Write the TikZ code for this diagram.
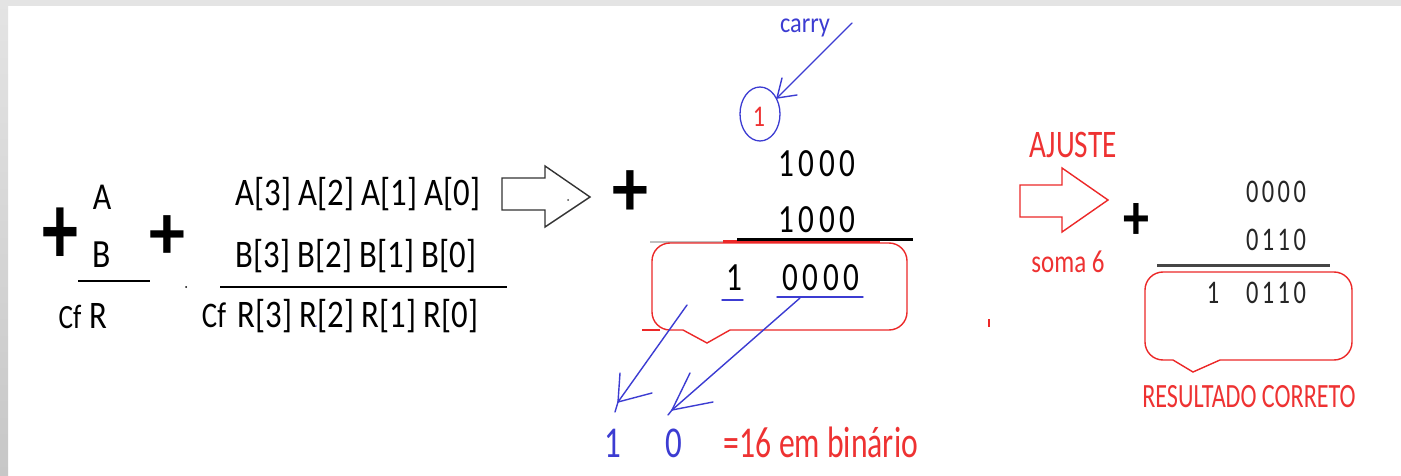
\documentclass[tikz,border=0pt]{standalone}
\usepackage{fontspec}
\usetikzlibrary{shapes.geometric}
\setmainfont{Carlito}
\newfontfamily\spaced[LetterSpace=14]{Carlito}
\definecolor{blueink}{RGB}{60,60,210}
\definecolor{redink}{RGB}{238,50,50}
\definecolor{boxred}{RGB}{236,40,40}
\definecolor{framegray}{RGB}{228,228,228}
\definecolor{sumgray}{RGB}{70,70,70}
\tikzset{
  txt/.style={inner sep=0pt, anchor=base},
  bit/.style={txt, font=\fontsize{39}{39}\selectfont, xscale=0.84},
  plus/.style={inner sep=0pt, font=\fontsize{72}{72}\bfseries},
  sumline/.style={line width=2.5pt, black},
  bluepen/.style={blueink, line width=1.4pt, line cap=round},
  redpen/.style={boxred, line width=1.4pt, rounded corners=18pt},
  hollow/.style={line width=1.4pt, fill=white},
  redtxt/.style={txt, text=redink},
  num/.style={txt, font=\spaced\fontsize{40}{40}\selectfont, xscale=0.78},
  smallnum/.style={txt, font=\spaced\fontsize{33}{33}\selectfont, xscale=0.74, text=black!85},
}
\begin{document}
\begin{tikzpicture}[x=1pt,y=-1pt]
\useasboundingbox (0,0) rectangle (1401,476);
% page frame
\fill[white] (0,0) rectangle (1401,476);
\fill[framegray] (0,0) rectangle (1401,6);
\shade[top color=framegray, bottom color=black!22] (0,0) rectangle (8,476);

% ---- single-bit sum ----
\node[plus, yscale=1.42] (p1) at (60,236) {+};
\node[bit, font=\fontsize{38}{38}\selectfont, xscale=1] (a) at (102,210) {A};
\node[bit, font=\fontsize{40}{40}\selectfont, xscale=1] (b) at (102,267) {B};
\draw[sumline] (78,281) -- (150,281);
\node[txt, font=\fontsize{34}{34}\selectfont, xscale=0.8] (cf1) at (70,328) {Cf};
\node[bit] (r) at (98,328) {R};

% ---- four-bit sum ----
\node[plus, yscale=1.1] (p2) at (167,238) {+};
\fill (186,287) circle (1pt);
\node[bit] (arow) at (358,205) {A[3] A[2] A[1] A[0]};
\node[bit] (brow) at (356,267) {B[3] B[2] B[1] B[0]};
\draw[sumline] (220,287) -- (507,287);
\node[txt, font=\fontsize{36}{36}\selectfont, xscale=0.8] (cf2) at (214,327) {Cf};
\node[bit] (rrow) at (358,327) {R[3] R[2] R[1] R[0]};
\fill[blueink!60] (316,326) circle (1pt);

% hollow arrow
\draw[hollow, draw=black!80] (502,178) -- (545,178) -- (545,166) -- (590,197)
  -- (545,227) -- (545,210) -- (502,210) -- cycle;
\fill[black!70] (568,200) circle (1pt);

% ---- worked example: 1000 + 1000 ----
\node[plus, yscale=1.15] (p3) at (630,194) {+};
\node[txt, font=\fontsize{28}{28}\selectfont, xscale=0.87, text=blueink] (carry) at (805,33) {carry};
\node[draw=blueink, line width=1.3pt, ellipse, minimum width=40pt, minimum height=54pt,
      inner sep=0pt] (cin) at (760,114) {};
\node[redtxt, font=\fontsize{30}{30}\selectfont, xscale=0.8] (cone) at (759,127) {1};
\coordinate (cstart) at (852,23);
\coordinate (ctip) at (777,98);
\draw[bluepen] (cstart) -- (ctip);
\draw[bluepen] (ctip) -- ++(5,-20);
\draw[bluepen] (ctip) -- ++(20,-3);

\node[num] (x1) at (817,177) {1000};
\node[num] (x2) at (817,232) {1000};

% result bubble
\draw[black!25, line width=1.5pt] (650,242) -- (737,242);
\draw[redpen] (683,330) -- (652,330) -- (652,243) -- (907,243) -- (907,330) -- (730,330);
\draw[boxred, line width=1.4pt] (730,330) -- (707,343) -- (683,330);
\draw[boxred, line width=1.4pt] (642,330) -- (660,330);
\draw[boxred, line width=3pt] (723,241) -- (880,241);
\draw[sumline] (737,239.5) -- (913,239.5);
\node[num] (rc) at (734,290) {1};
\node[num] (rs) at (821,290) {0000};
\draw[bluepen] (722,300) -- (743,300);
\draw[bluepen] (777,297) -- (863,297);

% carry-out and sum pointers
\coordinate (u1) at (687,305);
\coordinate (t1) at (618,402);
\coordinate (u2) at (800,298);
\coordinate (t2) at (672,410);
\node[txt, font=\fontsize{44}{44}\selectfont, xscale=0.75, text=blueink] (d1) at (613,457) {1};
\node[txt, font=\fontsize{44}{44}\selectfont, xscale=0.75, text=blueink] (d0) at (674,457) {0};
\draw[bluepen] (u1) -- (t1) -- ++(-3,10);
\draw[bluepen] (t1) -- ++(2,-29);
\draw[bluepen] (t1) -- ++(34,-9);
\draw[bluepen] (u2) -- (t2) -- ++(-4,5);
\draw[bluepen] (t2) -- ++(18,-37);
\draw[bluepen] (t2) -- ++(41,-8);
\node[redtxt, font=\fontsize{44}{44}\selectfont, xscale=0.72] (eq) at (821,457) {=16 em binário};

% ---- BCD adjustment ----
\node[redtxt, font=\fontsize{39}{39}\selectfont, xscale=0.75] (ajuste) at (1073,158) {AJUSTE};
\draw[hollow, draw=boxred] (1020,185) -- (1062,185) -- (1062,168) -- (1108,200)
  -- (1062,232) -- (1062,217) -- (1020,217) -- cycle;
\node[redtxt, font=\fontsize{32}{32}\selectfont, xscale=0.78] (soma) at (1068,272) {soma 6};
\draw[boxred, line width=1.4pt] (989,319) -- (989,327);

\node[plus, font=\fontsize{52}{52}\bfseries, yscale=1.25] (p4) at (1136,222) {+};
\node[smallnum] (y1) at (1276,203) {0000};
\node[smallnum] (y2) at (1276,250) {0110};
\draw[line width=3pt, sumgray] (1157,265) -- (1330,265);
\draw[redpen] (1173,360) -- (1145,360) -- (1145,272) -- (1352,272) -- (1352,360) -- (1220,360);
\draw[boxred, line width=1.4pt] (1220,360) -- (1193,372) -- (1173,360);
\node[smallnum] (yc) at (1213,303) {1};
\node[smallnum] (ys) at (1276,303) {0110};
\node[redtxt, font=\fontsize{34}{34}\selectfont, xscale=0.71] (ok) at (1249,407) {RESULTADO CORRETO};
\end{tikzpicture}
\end{document}
